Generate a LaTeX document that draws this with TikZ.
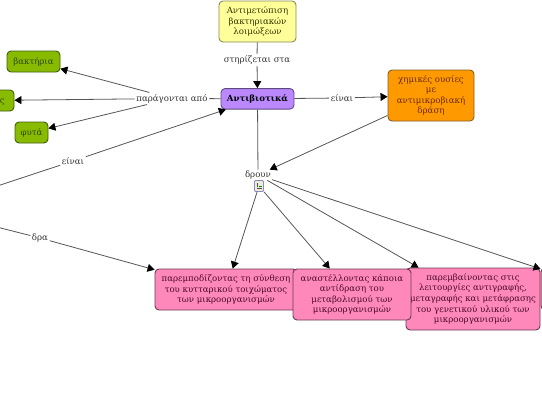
\documentclass[tikz,border=0pt]{standalone}
\usepackage{fontspec}
\setmainfont{DejaVu Serif}
\usetikzlibrary{arrows.meta}
\definecolor{lineg}{HTML}{555555}
\tikzset{
 x=1pt,y=-1pt,
 concept/.style={draw,rounded corners=4pt,line width=0.9pt,align=center,inner sep=0pt,font=\fontsize{8.6}{10.6}\selectfont,anchor=center},
 yellowbox/.style={concept,fill=yellowfill,draw=yellowedge,text=yellowtext},
 violetbox/.style={concept,fill=violetfill,draw=violetedge,text=black,font=\fontsize{8.6}{10.6}\selectfont\bfseries},
 orangebox/.style={concept,fill=orangefill,draw=orangeedge,text=orangetext},
 greenbox/.style={concept,fill=greenfill,draw=greenedge,text=greentext},
 pinkbox/.style={concept,fill=pinkfill,draw=pinkedge,text=pinktext},
 linklabel/.style={font=\fontsize{8.6}{10}\selectfont,text=labeltext,inner sep=1.5pt},
 link/.style={draw=lineg,line width=0.8pt},
 arrowlink/.style={link,-{Triangle[length=7pt,width=8pt,color=black]}},
}
\definecolor{yellowfill}{HTML}{FFFF99}\definecolor{yellowedge}{HTML}{8A8A55}\definecolor{yellowtext}{HTML}{333300}
\definecolor{violetfill}{HTML}{BB88FF}\definecolor{violetedge}{HTML}{5E4A80}
\definecolor{orangefill}{HTML}{FF9900}\definecolor{orangeedge}{HTML}{85602A}\definecolor{orangetext}{HTML}{6B2A00}
\definecolor{greenfill}{HTML}{88BB00}\definecolor{greenedge}{HTML}{3F5E10}\definecolor{greentext}{HTML}{2B4A00}
\definecolor{pinkfill}{HTML}{FF88BB}\definecolor{pinkedge}{HTML}{6A3A50}\definecolor{pinktext}{HTML}{4A0A2A}
\definecolor{labeltext}{HTML}{333333}
\begin{document}
\begin{tikzpicture}
\useasboundingbox (0,0) rectangle (542,410);
\clip (0,0) rectangle (542,410);
% concepts
\node[yellowbox,minimum width=77pt,minimum height=41pt] (treat) at (257.5,21.5) {Αντιμετώπιση\\βακτηριακών\\λοιμώξεων};
\node[violetbox,minimum width=73pt,minimum height=20.5pt] (anti) at (257.5,98.8) {Αντιβιοτικά};
\node[orangebox,minimum width=86pt,minimum height=51pt] (chem) at (431,95.5) {χημικές ουσίες\\με\\αντιμικροβιακή\\δράση};
\node[greenbox,minimum width=53pt,minimum height=21pt] (bact) at (33.5,61.5) {βακτήρια};
\node[greenbox,minimum width=54pt,minimum height=21pt] (fungi) at (-13,100.5) {μύκητες};
\node[greenbox,minimum width=33pt,minimum height=21pt] (plant) at (31.5,132.5) {φυτά};
\node[pinkbox,minimum width=142pt,minimum height=41pt] (pinkA) at (226,289.5) {παρεμποδίζοντας τη σύνθεση\\του κυτταρικού τοιχώματος\\των μικροοργανισμών};
\node[pinkbox,minimum width=134pt,minimum height=62pt] (pinkC) at (473,299) {παρεμβαίνοντας στις\\λειτουργίες αντιγραφής,\\μεταγραφής και μετάφρασης\\του γενετικού υλικού των\\μικροοργανισμών};
\node[pinkbox,minimum width=118pt,minimum height=51pt] (pinkB) at (352,294.5) {αναστέλλοντας κάποια\\αντίδραση του\\μεταβολισμού των\\μικροοργανισμών};
\node[pinkbox,minimum width=120pt,minimum height=42pt] (pinkD) at (601,289) {};
% link labels
\node[linklabel] (support) at (257,60) {στηρίζεται στα};
\node[linklabel] (produced) at (172,98.5) {παράγονται από};
\node[linklabel] (isA) at (73,161) {είναι};
\node[linklabel] (acts) at (40,238) {δρα};
\node[linklabel] (isB) at (342,98) {είναι};
\node[linklabel,inner sep=1pt] (act) at (258,175) {δρουν};
% icon
\node[draw=blue!30!gray!70,fill=yellow!35!gray!25,rounded corners=1pt,line width=0.9pt,minimum width=9pt,minimum height=11pt,inner sep=0pt] (icon) at (259,186) {};
\fill[black!70] (256.5,182.5) rectangle (258,187);
\fill[black!70] (256.5,187.5) rectangle (262,188.8);
\fill[green!50!black] (258.5,185.5) rectangle (261.5,186.8);
% free ends
\coordinate (leftA) at (-10,188.4);
\coordinate (leftB) at (-10,225.3);
% connectors
\draw[link] (treat) -- (support);
\draw[arrowlink] (support) -- (anti);
\draw[link] (anti) -- (produced);
\draw[arrowlink] (produced) -- (bact);
\draw[arrowlink] (produced) -- (fungi);
\draw[arrowlink] (produced) -- (plant);
\draw[link] (leftA) -- (isA);
\draw[arrowlink] (isA) -- (anti);
\draw[link] (leftB) -- (acts);
\draw[arrowlink] (acts) -- (pinkA);
\draw[link] (anti) -- (isB);
\draw[arrowlink] (isB) -- (chem);
\draw[link] (anti) -- (act);
\draw[arrowlink] (chem) -- (act);
\draw[link] (act) -- (icon);
\draw[arrowlink] (icon) -- (pinkA);
\draw[arrowlink] (icon) -- (pinkB);
\draw[arrowlink] (act) -- (pinkC);
\draw[arrowlink] (act) -- (pinkD);
\end{tikzpicture}
\end{document}
